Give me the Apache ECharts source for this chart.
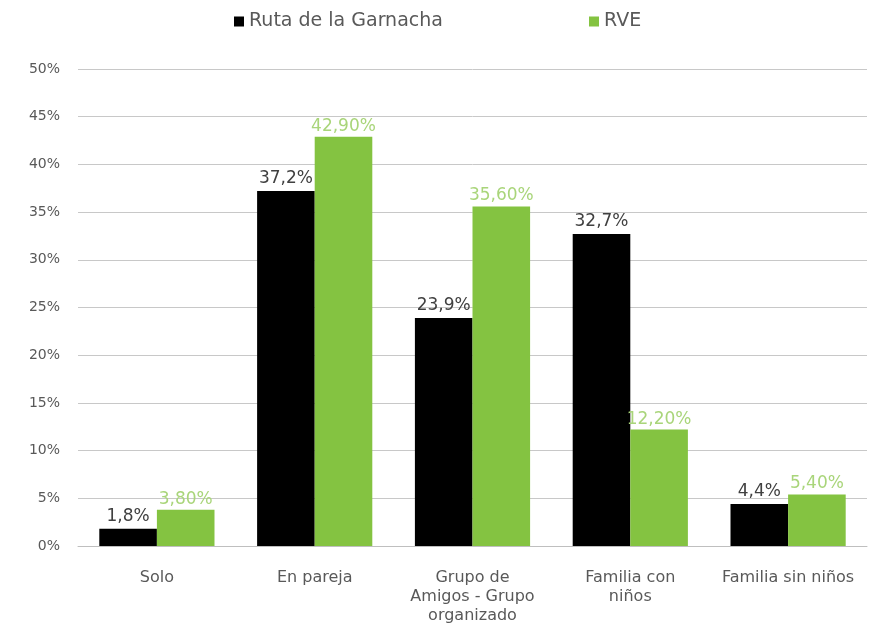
<!DOCTYPE html>
<html>
<head>
<meta charset="utf-8">
<script src="https://cdn.jsdelivr.net/npm/echarts@6/dist/echarts.min.js"></script>
<style>
  html, body { margin: 0; padding: 0; background: #ffffff; }
  #chart { width: 874px; height: 638px; }
</style>
</head>
<body>
<div id="chart"></div>
<script>
// Tipo de acompañamiento del visitante (%)
const categories = ['Solo', 'En pareja', 'Grupo de\nAmigos - Grupo\norganizado', 'Familia con\nniños', 'Familia sin niños'];
const rutaGarnacha = [1.8, 37.2, 23.9, 32.7, 4.4];
const rve = [3.8, 42.9, 35.6, 12.2, 5.4];
const yTicks = [0, 5, 10, 15, 20, 25, 30, 35, 40, 45, 50];

const FONT = 'DejaVu Sans';
const chart = echarts.init(document.getElementById('chart'));

const legendBase = {
  top: 7,
  itemWidth: 10,
  itemHeight: 10,
  itemGap: 4,
  icon: 'rect',
  textStyle: { fontSize: 19, color: '#595959', fontFamily: FONT }
};

chart.setOption({
  animation: false,
  textStyle: { fontFamily: FONT },
  legend: [
    Object.assign({ left: 229, data: ['Ruta de la Garnacha'] }, legendBase),
    Object.assign({ left: 584, data: ['RVE'] }, legendBase)
  ],
  grid: { left: 78, right: 7, top: 69, bottom: 92 },
  xAxis: {
    type: 'category',
    data: categories,
    axisLine: { lineStyle: { color: '#bfbfbf', width: 1 } },
    axisTick: { show: false },
    axisLabel: { color: '#595959', fontSize: 16, margin: 22, lineHeight: 19, interval: 0, fontFamily: FONT }
  },
  yAxis: {
    type: 'value',
    min: yTicks[0],
    max: yTicks[yTicks.length - 1],
    interval: 5,
    axisLine: { show: false },
    axisTick: { show: false },
    splitLine: { lineStyle: { color: '#c8c8c8', width: 1 } },
    axisLabel: { color: '#595959', fontSize: 14, margin: 18, formatter: v => v + '%', fontFamily: FONT }
  },
  series: [
    {
      name: 'Ruta de la Garnacha',
      type: 'bar',
      data: rutaGarnacha,
      barGap: '0%',
      barCategoryGap: '27%',
      itemStyle: { color: '#000000' },
      label: {
        show: true,
        position: 'top',
        distance: 4,
        color: '#404040',
        fontSize: 17,
        fontFamily: FONT,
        formatter: p => p.value.toFixed(1).replace('.', ',') + '%'
      }
    },
    {
      name: 'RVE',
      type: 'bar',
      data: rve,
      barGap: '0%',
      barCategoryGap: '27%',
      itemStyle: { color: '#84c341' },
      label: {
        show: true,
        position: 'top',
        distance: 2,
        color: '#a9d57a',
        fontSize: 17,
        fontFamily: FONT,
        formatter: p => p.value.toFixed(2).replace('.', ',') + '%'
      }
    }
  ]
});
</script>
</body>
</html>
